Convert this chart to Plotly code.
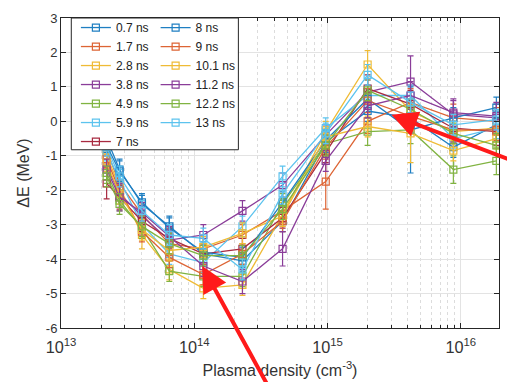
import plotly.graph_objects as go

# ---------------- data ----------------
density = [2.2e13, 2.75e13, 4.05e13, 6.5e13, 1.17e14, 2.3e14, 4.6e14, 9.7e14,
           2.0e15, 4.2e15, 8.8e15, 1.85e16]

labels = ["0.7 ns", "1.7 ns", "2.8 ns", "3.8 ns", "4.9 ns", "5.9 ns", "7 ns",
          "8 ns", "9 ns", "10.1 ns", "11.2 ns", "12.2 ns", "13 ns"]

dE_0p7 = [-0.50, -1.40, -2.40, -3.05, -3.85, -4.05, -2.90, -0.60, 0.30, 0.10, -0.75, -0.10]
dE_1p7 = [-0.85, -1.80, -2.70, -3.55, -3.70, -3.30, -2.60, -1.75, 0.00, 0.55, 0.10, 0.00]
dE_2p8 = [-1.00, -1.90, -3.30, -4.30, -4.85, -4.75, -2.70, -0.30, 1.65, 0.30, -0.30, -0.20]
dE_3p8 = [-1.30, -2.10, -2.75, -3.45, -3.30, -2.60, -1.85, -0.40, 0.85, 1.15, 0.20, 0.10]
dE_4p9 = [-1.50, -2.30, -3.10, -4.35, -4.50, -4.50, -2.40, -0.65, -0.30, -0.25, -1.40, -1.15]
dE_5p9 = [-0.90, -1.70, -3.00, -3.85, -4.10, -3.05, -1.60, -0.20, 0.75, 0.75, -0.50, -0.20]
dE_7p0 = [-1.80, -2.20, -2.90, -3.40, -3.85, -3.70, -2.80, -0.90, 0.95, 0.50, -0.20, -0.30]
dE_8p0 = [-0.70, -1.45, -2.35, -3.10, -3.80, -3.95, -2.35, -0.55, 0.65, -0.25, 0.10, 0.40]
dE_9p0 = [-1.10, -2.00, -3.20, -3.95, -4.45, -3.85, -2.90, -0.75, 0.60, 0.15, -0.25, -0.25]
dE_10p1 = [-1.20, -2.10, -3.15, -3.75, -3.65, -3.25, -2.75, -0.45, -0.15, -0.35, -0.85, -0.50]
dE_11p2 = [-1.40, -2.20, -2.65, -3.35, -4.20, -4.65, -3.70, -1.15, 0.45, 0.75, 0.25, 0.15]
dE_12p2 = [-1.60, -2.40, -3.05, -3.55, -3.90, -3.90, -2.55, -0.70, 0.90, 0.35, -0.35, -0.70]
dE_13p0 = [-0.75, -1.60, -2.60, -3.30, -3.40, -4.30, -2.10, -0.35, 1.35, 0.55, -0.10, 0.05]

err_0p7 = [0.20, 0.30, 0.25, 0.30, 0.25, 0.30, 0.30, 0.30, 0.30, 0.30, 0.30, 0.30]
err_1p7 = [0.25, 0.30, 0.30, 0.35, 0.30, 0.30, 0.35, 0.80, 0.35, 0.40, 0.40, 0.40]
err_2p8 = [0.25, 0.30, 0.40, 0.30, 0.30, 0.30, 0.35, 0.30, 0.40, 0.35, 0.30, 0.30]
err_3p8 = [0.30, 0.40, 0.30, 0.30, 0.30, 0.30, 0.35, 0.30, 0.35, 0.75, 0.40, 0.40]
err_4p9 = [0.30, 0.30, 0.30, 0.30, 0.30, 0.30, 0.30, 0.30, 0.40, 0.40, 0.40, 0.40]
err_5p9 = [0.25, 0.30, 0.30, 0.30, 0.30, 0.30, 0.30, 0.30, 0.30, 0.30, 0.30, 0.30]
err_7p0 = [0.45, 0.35, 0.30, 0.30, 0.30, 0.30, 0.30, 0.30, 0.40, 0.40, 0.40, 0.40]
err_8p0 = [0.20, 0.30, 0.25, 0.30, 0.30, 0.30, 0.30, 0.30, 0.30, 1.25, 0.30, 0.30]
err_9p0 = [0.25, 0.30, 0.30, 0.30, 0.30, 0.30, 0.30, 0.35, 0.35, 0.40, 0.40, 0.30]
err_10p1 = [0.25, 0.30, 0.30, 0.30, 0.30, 0.30, 0.30, 0.30, 0.30, 0.85, 0.30, 0.30]
err_11p2 = [0.30, 0.40, 0.30, 0.30, 0.30, 0.35, 0.50, 0.30, 0.35, 0.40, 0.40, 0.40]
err_12p2 = [0.30, 0.30, 0.30, 0.30, 0.30, 0.30, 0.30, 0.30, 0.30, 0.30, 0.30, 0.35]
err_13p0 = [0.25, 0.30, 0.30, 0.30, 0.30, 0.30, 0.30, 0.30, 0.30, 0.30, 0.30, 0.30]

y_tick_vals = [3, 2, 1, 0, -1, -2, -3, -4, -5, -6]
y_tick_text = ["3", "2", "1", "0", "-1", "-2", "-3", "-4", "-5", "-6"]

series = [dE_0p7, dE_1p7, dE_2p8, dE_3p8, dE_4p9, dE_5p9, dE_7p0,
          dE_8p0, dE_9p0, dE_10p1, dE_11p2, dE_12p2, dE_13p0]
errors = [err_0p7, err_1p7, err_2p8, err_3p8, err_4p9, err_5p9, err_7p0,
          err_8p0, err_9p0, err_10p1, err_11p2, err_12p2, err_13p0]

# ---------------- style ----------------
palette = ["#1f7fc2", "#dd6434", "#efbb35", "#8a3d99", "#80b341", "#5cc3ee", "#a82a40"]
FONT = "Liberation Sans, Arial, sans-serif"
TXT = "#333333"

fig = go.Figure()
for i, (lab, ys, es) in enumerate(zip(labels, series, errors)):
    col = palette[i % 7]
    fig.add_trace(go.Scatter(
        x=density, y=ys, name=lab, mode="lines+markers",
        line=dict(color=col, width=1.3),
        marker=dict(symbol="square-open", size=7, color=col, line=dict(width=1.2)),
        error_y=dict(type="data", array=es, visible=True, color=col,
                     thickness=1.2, width=3),
        legend="legend" if i < 7 else "legend2",
    ))

axis_common = dict(
    showline=True, linecolor="#262626", linewidth=1, mirror="ticks",
    ticks="inside", ticklen=5, tickcolor="#262626",
    showgrid=True, gridcolor="#e3e3e3", gridwidth=1,
    zeroline=False, automargin=False,
    tickfont=dict(family=FONT, size=13, color=TXT),
)

fig.update_xaxes(
    type="log", range=[13, 16.287], dtick=1, exponentformat="power",
    ticklabelstandoff=5,
    minor=dict(ticks="inside", ticklen=3, tickcolor="#262626",
               showgrid=True, gridcolor="#dcdcdc", griddash="dot", gridwidth=1),
    title=dict(text="Plasma density (cm<sup>-3</sup>)",
               font=dict(family=FONT, size=16, color=TXT), standoff=9),
    **axis_common,
)
fig.update_yaxes(
    range=[-6, 3], tickvals=y_tick_vals, ticktext=y_tick_text,
    title=dict(text="ΔE (MeV)", font=dict(family=FONT, size=16, color=TXT), standoff=12),
    **axis_common,
)

legend_common = dict(
    bgcolor="rgba(0,0,0,0)", borderwidth=0,
    font=dict(family=FONT, size=12, color="#222222"),
    xanchor="left", yanchor="top", tracegroupgap=0,
)

fig.update_layout(
    width=515, height=382,
    margin=dict(l=53, r=24, t=5, b=62),
    plot_bgcolor="white", paper_bgcolor="white",
    legend=dict(x=0.034, y=1.016, **legend_common),
    legend2=dict(x=0.216, y=1.016, **legend_common),
    shapes=[dict(type="rect", xref="paper", yref="paper",
                 x0=0.0235, x1=0.405, y0=0.575, y1=1.0,
                 line=dict(color="#262626", width=1), fillcolor="white",
                 layer="above")],
    annotations=[
        dict(x=14.06, y=-4.2, xref="x", yref="y", text="", showarrow=True,
             ax=68, ay=128, arrowcolor="#ff1a1a", arrowwidth=4, arrowhead=2,
             arrowsize=1.3),
        dict(x=15.479, y=0.19, xref="x", yref="y", text="", showarrow=True,
             ax=145, ay=50, arrowcolor="#ff1a1a", arrowwidth=4, arrowhead=2,
             arrowsize=1.3),
    ],
)

fig.write_html("out.html")
